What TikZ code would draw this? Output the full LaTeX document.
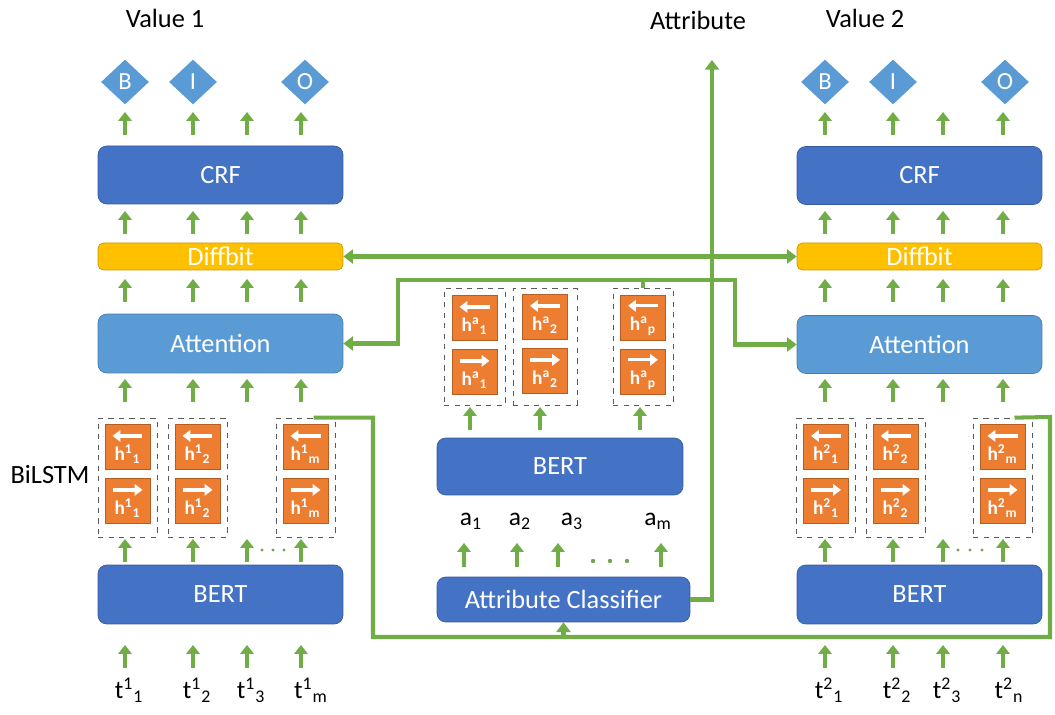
\documentclass[tikz,border=0pt]{standalone}
\usepackage{fontspec}
\setmainfont{Carlito}
\usepackage{xcolor}
\definecolor{BoxBlue}{HTML}{4472C4}
\definecolor{LightBlue}{HTML}{5B9BD5}
\definecolor{DiffGold}{HTML}{FFC000}
\definecolor{CellOrange}{HTML}{ED7D31}
\definecolor{FlowGreen}{HTML}{70AD47}
\usepackage{tikz}
\usetikzlibrary{arrows.meta,calc,shapes.geometric}

\newcommand{\lcell}[2]{\tikz\draw[white,line width=1.9pt,-{Triangle[width=6.5pt,length=4.5pt]}] (0.6cm,0) -- (0cm,0);\\[-1pt]h\textsuperscript{#1}\textsubscript{#2}}
\newcommand{\rcell}[2]{\tikz\draw[white,line width=1.9pt,-{Triangle[width=6.5pt,length=4.5pt]}] (0cm,0) -- (0.6cm,0);\\[-1pt]h\textsuperscript{#1}\textsubscript{#2}}

\begin{document}
\begin{tikzpicture}[x=0.02cm,y=-0.02cm,
    box/.style={rounded corners=5pt,draw=#1!80!black,fill=#1,text=white,font=\fontsize{15}{17}\selectfont,minimum width=4.9cm,inner sep=0pt},
    cell/.style={draw=CellOrange!75!black,fill=CellOrange,text=white,minimum size=0.9cm,inner sep=0pt,align=center,font=\bfseries\fontsize{11}{12}\selectfont},
    group/.style={draw=black!65,dashed,thin,minimum width=1.18cm,minimum height=2.38cm},
    tag/.style={diamond,fill=LightBlue,text=white,minimum width=0.96cm,minimum height=0.9cm,inner sep=0pt,font=\fontsize{14}{16}\selectfont},
    label/.style={font=\fontsize{15}{17}\selectfont},
    token/.style={font=\fontsize{14.5}{17}\selectfont},
    link/.style={draw=FlowGreen,line width=2.3pt},
    up/.style={FlowGreen,line width=2.8pt,-{Triangle[width=7.5pt,length=5pt]}},
    >={Triangle[width=8pt,length=5.5pt]}]
    \useasboundingbox (0,0) rectangle (1055,715);

    % titles
    \node[label] (val1) at (165,18) {Value 1};
    \node[label] (val2) at (865,18) {Value 2};
    \node[label] (attr) at (698,20) {Attribute};
    \node[label] (bilstm) at (50,475) {BiLSTM};

    % tags
    \node[tag] (b1) at (125,82) {B};
    \node[tag] (i1) at (193,82) {I};
    \node[tag] (o1) at (305,82) {O};
    \node[tag] (b2) at (825,82) {B};
    \node[tag] (i2) at (893,82) {I};
    \node[tag] (o2) at (1005,82) {O};

    % left tower
    \node[box=BoxBlue,minimum height=1.16cm] (crf1) at (220.5,175) {CRF};
    \node[box=DiffGold,minimum height=0.54cm,rounded corners=3pt] (dif1) at (220.5,256.5) {Diffbit};
    \node[box=LightBlue,minimum height=1.18cm] (att1) at (220.5,343.5) {Attention};
    \node[box=BoxBlue,minimum height=1.18cm] (bert1) at (220.5,594.5) {BERT};

    \node[group] (g1a) at (127.5,477.5) {};
    \node[group] (g1b) at (197.5,477.5) {};
    \node[group] (g1c) at (305.5,477.5) {};
    \node[cell] (l11) at (127.5,447) {\lcell{1}{1}};
    \node[cell] (r11) at (127.5,501) {\rcell{1}{1}};
    \node[cell] (l12) at (197.5,447) {\lcell{1}{2}};
    \node[cell] (r12) at (197.5,501) {\rcell{1}{2}};
    \node[cell] (l1m) at (305.5,447) {\lcell{1}{m}};
    \node[cell] (r1m) at (305.5,501) {\rcell{1}{m}};

    \node[token] (t11) at (129,690) {t\textsuperscript{1}\textsubscript{1}};
    \node[token] (t12) at (197,690) {t\textsuperscript{1}\textsubscript{2}};
    \node[token] (t13) at (251,690) {t\textsuperscript{1}\textsubscript{3}};
    \node[token] (t1m) at (311,690) {t\textsuperscript{1}\textsubscript{m}};

    % right tower
    \node[box=BoxBlue,minimum height=1.16cm] (crf2) at (919.5,175.5) {CRF};
    \node[box=DiffGold,minimum height=0.54cm,rounded corners=3pt] (dif2) at (919.5,256.5) {Diffbit};
    \node[box=LightBlue,minimum height=1.16cm] (att2) at (919.5,344.5) {Attention};
    \node[box=BoxBlue,minimum height=1.18cm] (bert2) at (919.5,594.5) {BERT};

    \node[group] (g2a) at (826,477.5) {};
    \node[group] (g2b) at (895.5,477.5) {};
    \node[group] (g2c) at (1002.5,477.5) {};
    \node[cell] (l21) at (826,447) {\lcell{2}{1}};
    \node[cell] (r21) at (826,501) {\rcell{2}{1}};
    \node[cell] (l22) at (895.5,447) {\lcell{2}{2}};
    \node[cell] (r22) at (895.5,501) {\rcell{2}{2}};
    \node[cell] (l2m) at (1002.5,447) {\lcell{2}{m}};
    \node[cell] (r2m) at (1002.5,501) {\rcell{2}{m}};

    \node[token] (t21) at (829,690) {t\textsuperscript{2}\textsubscript{1}};
    \node[token] (t22) at (897,690) {t\textsuperscript{2}\textsubscript{2}};
    \node[token] (t23) at (947,690) {t\textsuperscript{2}\textsubscript{3}};
    \node[token] (t2n) at (1009,690) {t\textsuperscript{2}\textsubscript{n}};

    % attribute branch
    \node[group,minimum width=1.22cm,minimum height=2.34cm] (ga1) at (474.5,346.5) {};
    \node[group,minimum width=1.28cm,minimum height=2.34cm] (ga2) at (545,346.5) {};
    \node[group,minimum width=1.2cm,minimum height=2.34cm] (gap) at (643,346.5) {};
    \node[cell] (la1) at (474.5,318) {\lcell{a}{1}};
    \node[cell] (ra1) at (474.5,372) {\rcell{a}{1}};
    \node[cell] (la2) at (545,317) {\lcell{a}{2}};
    \node[cell] (ra2) at (545,371) {\rcell{a}{2}};
    \node[cell] (lap) at (643,318) {\lcell{a}{p}};
    \node[cell] (rap) at (643,372) {\rcell{a}{p}};

    \node[box=BoxBlue,minimum width=4.92cm,minimum height=1.14cm] (bert0) at (560,466.5) {BERT};
    \node[token] (a1) at (471,521) {a\textsubscript{1}};
    \node[token] (a2) at (520,521) {a\textsubscript{2}};
    \node[token] (a3) at (572,521) {a\textsubscript{3}};
    \node[token] (am) at (658,521) {a\textsubscript{m}};
    \node[box=BoxBlue,minimum width=5.06cm,minimum height=0.9cm] (cls) at (563.5,599.5) {Attribute Classifier};

    % short arrows
    \foreach \x in {125,193,247,301,825,893,943,1003}
      \foreach \y in {135,234,302,402,562,668}
        \draw[up] (\x,\y) -- (\x,\y-23);
    \foreach \x in {470,540,640}
      \draw[up] (\x,430) -- (\x,407);
    \foreach \x in {464,517,558,661}
      \draw[up] (\x,567) -- (\x,543);
    \foreach \x in {262,273,284,958,970,982}
      \fill[FlowGreen!70!gray] (\x,550) circle (1.6);
    \foreach \x in {593,610,627}
      \fill[FlowGreen!80!gray] (\x,561) circle (2.2);

    % connectors
    \coordinate (top) at (712,60);
    \coordinate (j) at (643,280);
    \coordinate (low) at (373,637);
    \draw[link,<->] (dif1.east) -- (dif2.west);
    \draw[link] (gap.north) -- (j);
    \draw[link,->] (j) -| ($(att1.east)+(55,0)$) -- (att1.east);
    \draw[link,->] (j) -| ($(att2.west)+(-62,0)$) -- (att2.west);
    \draw[link,->] (cls.east) -| (top);
    \draw[link] ($(g1c.north)+(8,0)$) -| (low) -| (1050,417) -- ($(g2c.north)+(12,0)$);
    \draw[link,->] (cls.south |- low) -- (cls.south);
\end{tikzpicture}
\end{document}
